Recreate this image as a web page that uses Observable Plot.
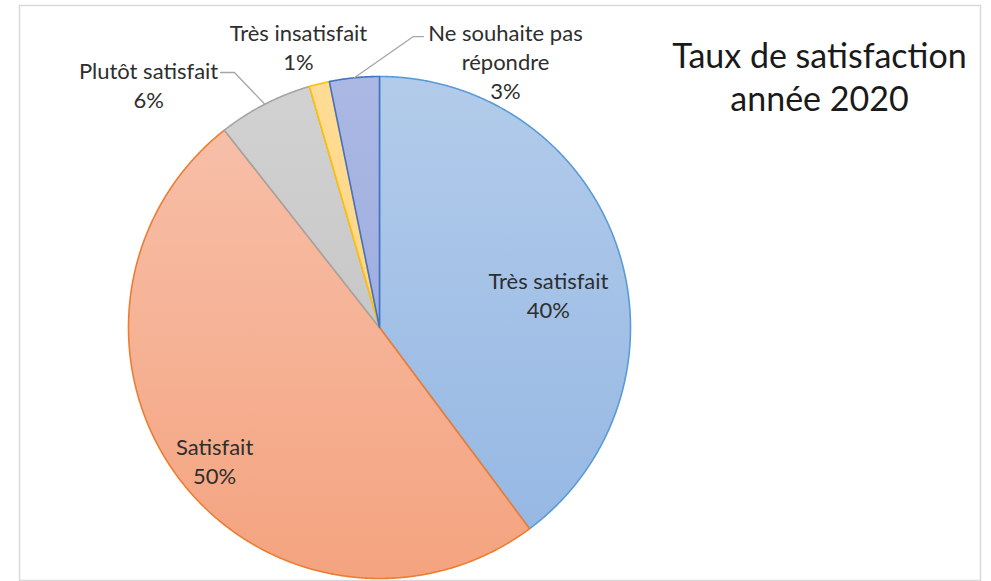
<!DOCTYPE html>
<html><head><meta charset="utf-8">
<script src="https://cdn.jsdelivr.net/npm/d3@7"></script>
<script src="https://cdn.jsdelivr.net/npm/@observablehq/plot@0.6"></script>
<style>html,body{margin:0;padding:0;background:#fff} svg{display:block}</style>
</head><body><div id="chart"></div>
<script>
// ---- data ----
const categories = ["Très satisfait", "Satisfait", "Plutôt satisfait", "Très insatisfait", "Ne souhaite pas répondre"];
const values = [39.8, 49.6, 6.1, 1.3, 3.2];   // shares
const titleText = "Taux de satisfaction\nannée 2020";

// ---- styles / layout (not data) ----
const labelText = ["Très satisfait", "Satisfait", "Plutôt satisfait", "Très insatisfait", "Ne souhaite pas\nrépondre"];
const gradTop = ["#b2cbea", "#f7c2ad", "#d2d2d2", "#ffdc96", "#abb8e4"];
const gradBottom = ["#93b6e3", "#f4a37f", "#bdbdbd", "#ffcf70", "#93a5da"];
const strokes = ["#5b9bd5", "#ed7d31", "#a5a5a5", "#ffc000", "#4472c4"];
// label anchor positions in pie-radius units (x right, y up)
const labelPos = [[0.673, 0.133], [-0.657, -0.528], [-0.920, 0.968], [-0.323, 1.120], [0.502, 1.062]];
// leader lines: start & elbow in radius units, end at slice edge
const leaders = [{slice: 2, pts: [[-0.633, 1.016], [-0.578, 1.016]]}, {slice: 4, pts: [[0.175, 1.159], [0.135, 1.159]]}];
const cx = 379, cy = 327, r = 251, W = 991, H = 581;

const total = d3.sum(values);
let cum = 0;
const slices = values.map((v, i) => {
  const a0 = cum / total * 2 * Math.PI;
  cum += v;
  const a1 = cum / total * 2 * Math.PI;
  return {i, name: categories[i], value: v, a0, a1, mid: (a0 + a1) / 2};
});

const polyPts = [];
for (const s of slices) {
  const n = Math.max(2, Math.ceil((s.a1 - s.a0) / (Math.PI / 720)));
  polyPts.push({key: s.i, x: 0, y: 0, fill: `url(#grad${s.i})`, stroke: strokes[s.i]});
  for (let k = 0; k <= n; k++) {
    const a = s.a0 + (s.a1 - s.a0) * k / n;
    polyPts.push({key: s.i, x: Math.sin(a), y: Math.cos(a), fill: `url(#grad${s.i})`, stroke: strokes[s.i]});
  }
  polyPts.push({key: s.i, x: 0, y: 0, fill: `url(#grad${s.i})`, stroke: strokes[s.i]});
}

const leaderPts = [];
leaders.forEach((l, j) => {
  const s = slices[l.slice];
  l.pts.forEach(p => leaderPts.push({key: j, x: p[0], y: p[1]}));
  leaderPts.push({key: j, x: Math.sin(s.mid), y: Math.cos(s.mid)});
});

const labels = slices.map(s => ({
  x: labelPos[s.i][0], y: labelPos[s.i][1],
  text: `${labelText[s.i]}\n${Math.round(s.value / total * 100)}%`
}));

function gradients(index, scales) {
  const g = d3.create("svg:g");
  const defs = g.append("defs");
  gradTop.forEach((c, i) => {
    const lg = defs.append("linearGradient").attr("id", `grad${i}`)
      .attr("gradientUnits", "userSpaceOnUse")
      .attr("x1", 0).attr("x2", 0).attr("y1", scales.y(1)).attr("y2", scales.y(-1));
    lg.append("stop").attr("offset", "0").attr("stop-color", c);
    lg.append("stop").attr("offset", "1").attr("stop-color", gradBottom[i]);
  });
  return g.node();
}

const chart = Plot.plot({
  width: W, height: H,
  marginLeft: 19, marginTop: 5, marginRight: 11, marginBottom: 1,
  style: {fontFamily: "Lato, 'Noto Sans', sans-serif", background: "#fff"},
  x: {domain: [-1, 1], range: [cx - r, cx + r], axis: null},
  y: {domain: [-1, 1], range: [cy + r, cy - r], axis: null},
  color: {type: "identity"},
  marks: [
    Plot.frame({stroke: "#d9d9d9", strokeWidth: 1.5}),
    gradients,
    Plot.line(polyPts, {x: "x", y: "y", z: "key", fill: "fill", stroke: "stroke", strokeWidth: 1.6, strokeLinejoin: "round", curve: "linear"}),
    Plot.line(leaderPts, {x: "x", y: "y", z: "key", stroke: "#a6a6a6", strokeWidth: 1.3}),
    Plot.text(labels, {x: "x", y: "y", text: "text", fontSize: 22, lineHeight: 1.32, fill: "#2e2e2e", textAnchor: "middle", lineAnchor: "middle"}),
    Plot.text([titleText], {x: () => 1.753, y: () => 1.002, text: d => d, fontSize: 34, lineHeight: 1.27, fill: "#1a1a1a", textAnchor: "middle", lineAnchor: "middle"})
  ]
});
document.getElementById("chart").appendChild(chart);
</script>
</body></html>
